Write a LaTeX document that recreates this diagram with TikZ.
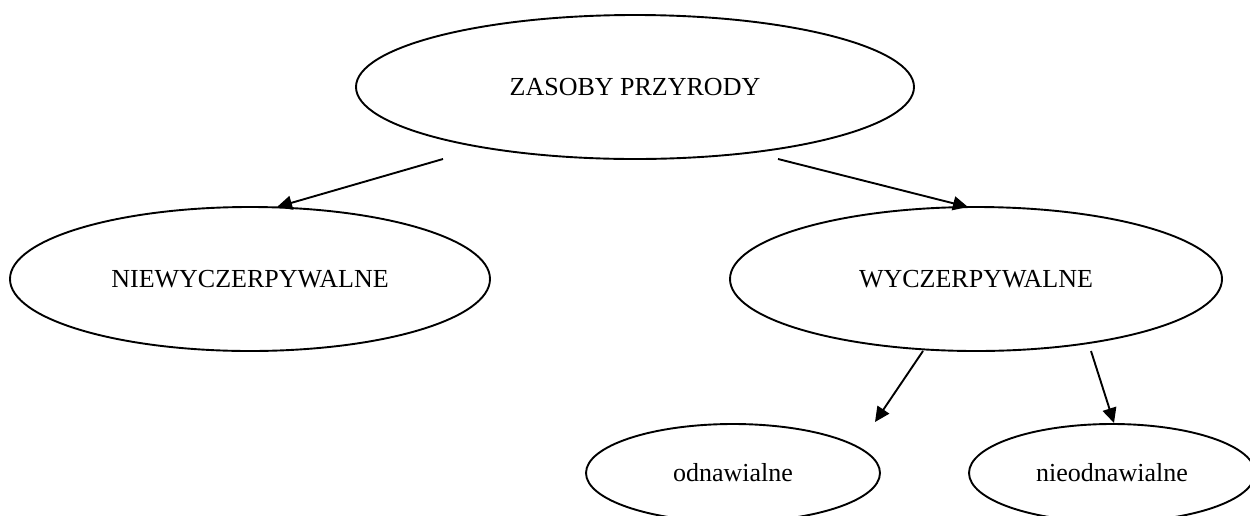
\documentclass[tikz,border=0pt]{standalone}
\usepackage{fontspec}
\setmainfont{Liberation Serif}
\usetikzlibrary{shapes.geometric,arrows.meta}
\begin{document}
\begin{tikzpicture}[x=1pt,y=-1pt,
  oval/.style={ellipse,draw,line width=1.9pt,inner sep=0pt,
    font=\fontsize{26}{30}\selectfont},
  link/.style={line width=1.9pt,-{Triangle[length=15pt,width=14pt]}}]
\clip (0,0) rectangle (1250,515);
\fill[white] (0,0) rectangle (1250,515);

% ellipses
\node[oval,minimum width=558pt,minimum height=144pt] (root) at (635,87) {ZASOBY PRZYRODY};
\node[oval,minimum width=480pt,minimum height=144pt] (inex) at (250,279) {NIEWYCZERPYWALNE};
\node[oval,minimum width=492pt,minimum height=144pt] (ex) at (976,279) {WYCZERPYWALNE};
\node[oval,minimum width=294pt,minimum height=98pt] (ren) at (733,473) {odnawialne};
\node[oval,minimum width=286pt,minimum height=98pt] (nren) at (1112,473) {nieodnawialne};

% connector ends
\coordinate (r1) at (443,159);
\coordinate (r2) at (778,159);
\coordinate (i1) at (277,207);
\coordinate (e1) at (968,207);
\coordinate (e2) at (923,351);
\coordinate (e3) at (1091,351);
\coordinate (o1) at (875,422);
\coordinate (n1) at (1114,423);

\draw[link] (r1) -- (i1);
\draw[link] (r2) -- (e1);
\draw[link] (e2) -- (o1);
\draw[link] (e3) -- (n1);
\end{tikzpicture}
\end{document}
